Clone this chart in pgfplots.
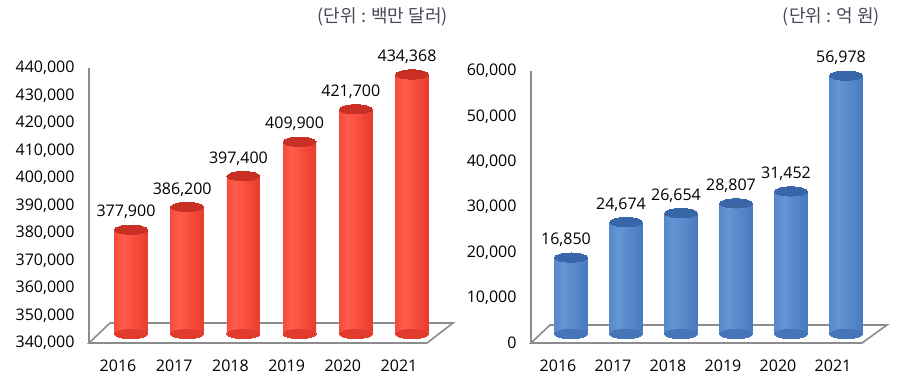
\documentclass[border=0pt]{standalone}
\usepackage{pgfplots}
\pgfplotsset{compat=1.18}
\usepackage{fontspec}
\setmainfont{Open Sans}
\newfontfamily\kr{Noto Sans CJK KR}

\definecolor{floorgray}{RGB}{140,140,140}
\definecolor{unitc}{RGB}{70,72,90}
% red cylinder
\definecolor{rdk}{RGB}{185,38,28}
\definecolor{rmid}{RGB}{236,62,46}
\definecolor{rlt}{RGB}{255,92,76}
\definecolor{rdk2}{RGB}{196,44,34}
\definecolor{rtop}{RGB}{200,48,38}
\definecolor{rbot}{RGB}{226,58,44}
% blue cylinder
\definecolor{bdk}{RGB}{48,90,152}
\definecolor{bmid}{RGB}{74,124,192}
\definecolor{blt}{RGB}{100,150,214}
\definecolor{bdk2}{RGB}{54,98,162}
\definecolor{btop}{RGB}{56,102,168}
\definecolor{bbot}{RGB}{70,118,184}

\pgfdeclarehorizontalshading{redcyl}{100bp}{color(0bp)=(rdk); color(14bp)=(rmid); color(38bp)=(rlt); color(72bp)=(rmid); color(100bp)=(rdk2)}
\pgfdeclarehorizontalshading{bluecyl}{100bp}{color(0bp)=(bdk); color(14bp)=(bmid); color(38bp)=(blt); color(72bp)=(bmid); color(100bp)=(bdk2)}

\pgfplotsset{
  /pgf/number format/assume math mode=true,
  cylaxis/.style={
    scale only axis,
    clip=false,
    axis lines*=left,
    axis line style={draw=floorgray, line width=1.6bp, -},
    major tick length=0pt,
    tick label style={font=\fontsize{16bp}{19bp}\selectfont, text=black},
    xtick={0,1,2,3,4,5},
    xticklabels={2016,2017,2018,2019,2020,2021},
    xticklabel style={yshift=-13bp},
    yticklabel style={xshift=-11bp},
    scaled y ticks=false,
    yticklabel={\pgfmathprintnumber[fixed,precision=0,1000 sep={,}]{\tick}},
  },
  lbl/.style={
    point meta=explicit symbolic,
    nodes near coords,
    nodes near coords style={font=\fontsize{16bp}{19bp}\selectfont, text=black, anchor=south, yshift=7.5bp, xshift=-5bp},
  },
  redbar/.style={ybar, bar width=33bp, bar shift=0pt, draw=none, shading=redcyl, xshift=13bp, yshift=9bp},
  bluebar/.style={ybar, bar width=33bp, bar shift=0pt, draw=none, shading=bluecyl, xshift=13bp, yshift=9bp},
  cap/.style={only marks, mark=*, mark size=16.5bp, mark options={yscale=0.28, draw=#1, fill=#1, line width=0pt}, xshift=13bp, yshift=9bp},
}

\begin{document}
\begin{tikzpicture}
\useasboundingbox (0,0) rectangle (903bp,383bp);

% ---------- left panel ----------
\begin{axis}[cylaxis,
  at={(89bp,40bp)}, anchor=south west,
  width=338bp, height=275bp,
  xmin=-0.516, xmax=5.498,
  ymin=340000, ymax=440000,
  ytick={340000,350000,360000,370000,380000,390000,400000,410000,420000,430000,440000},
]
\draw[draw=floorgray, line width=1.6bp, fill=white]
  (rel axis cs:0,0) -- (rel axis cs:1,0) -- ([shift={(26bp,20bp)}]rel axis cs:1,0)
  -- ([shift={(21bp,20bp)}]rel axis cs:0,0) -- cycle;
% bottom ellipses
\addplot[cap=rbot] coordinates {(0,340000) (1,340000) (2,340000) (3,340000) (4,340000) (5,340000)};
% bodies
\addplot[redbar] coordinates {(0,377900)};
\addplot[redbar] coordinates {(1,386200)};
\addplot[redbar] coordinates {(2,397400)};
\addplot[redbar] coordinates {(3,409900)};
\addplot[redbar] coordinates {(4,421700)};
\addplot[redbar] coordinates {(5,434368)};
% tops with labels
\addplot[cap=rtop, lbl]
  coordinates {(0,377900) [377,900] (1,386200) [386,200] (2,397400) [397,400] (3,409900) [409,900] (4,421700) [421,700] (5,434368) [434,368]};
\end{axis}

% ---------- right panel ----------
\begin{axis}[cylaxis,
  at={(531bp,40bp)}, anchor=south west,
  width=331bp, height=272bp,
  xmin=-0.491, xmax=5.527,
  ymin=0, ymax=60000,
  ytick={0,10000,20000,30000,40000,50000,60000},
]
\draw[draw=floorgray, line width=1.6bp, fill=white]
  (rel axis cs:0,0) -- (rel axis cs:1,0) -- ([shift={(25bp,18bp)}]rel axis cs:1,0)
  -- ([shift={(19bp,18bp)}]rel axis cs:0,0) -- cycle;
\addplot[cap=bbot] coordinates {(0,0) (1,0) (2,0) (3,0) (4,0) (5,0)};
\addplot[bluebar] coordinates {(0,16850)};
\addplot[bluebar] coordinates {(1,24674)};
\addplot[bluebar] coordinates {(2,26654)};
\addplot[bluebar] coordinates {(3,28807)};
\addplot[bluebar] coordinates {(4,31452)};
\addplot[bluebar] coordinates {(5,56978)};
\addplot[cap=btop, lbl]
  coordinates {(0,16850) [16,850] (1,24674) [24,674] (2,26654) [26,654] (3,28807) [28,807] (4,31452) [31,452] (5,56978) [56,978]};
\end{axis}

% unit notes
\node[anchor=east, inner sep=0pt, text=unitc, font=\kr\fontsize{18bp}{21bp}\selectfont] at (448bp,366bp) {(단위 : 백만 달러)};
\node[anchor=east, inner sep=0pt, text=unitc, font=\kr\fontsize{18bp}{21bp}\selectfont] at (880bp,366bp) {(단위 : 억 원)};
\end{tikzpicture}
\end{document}
